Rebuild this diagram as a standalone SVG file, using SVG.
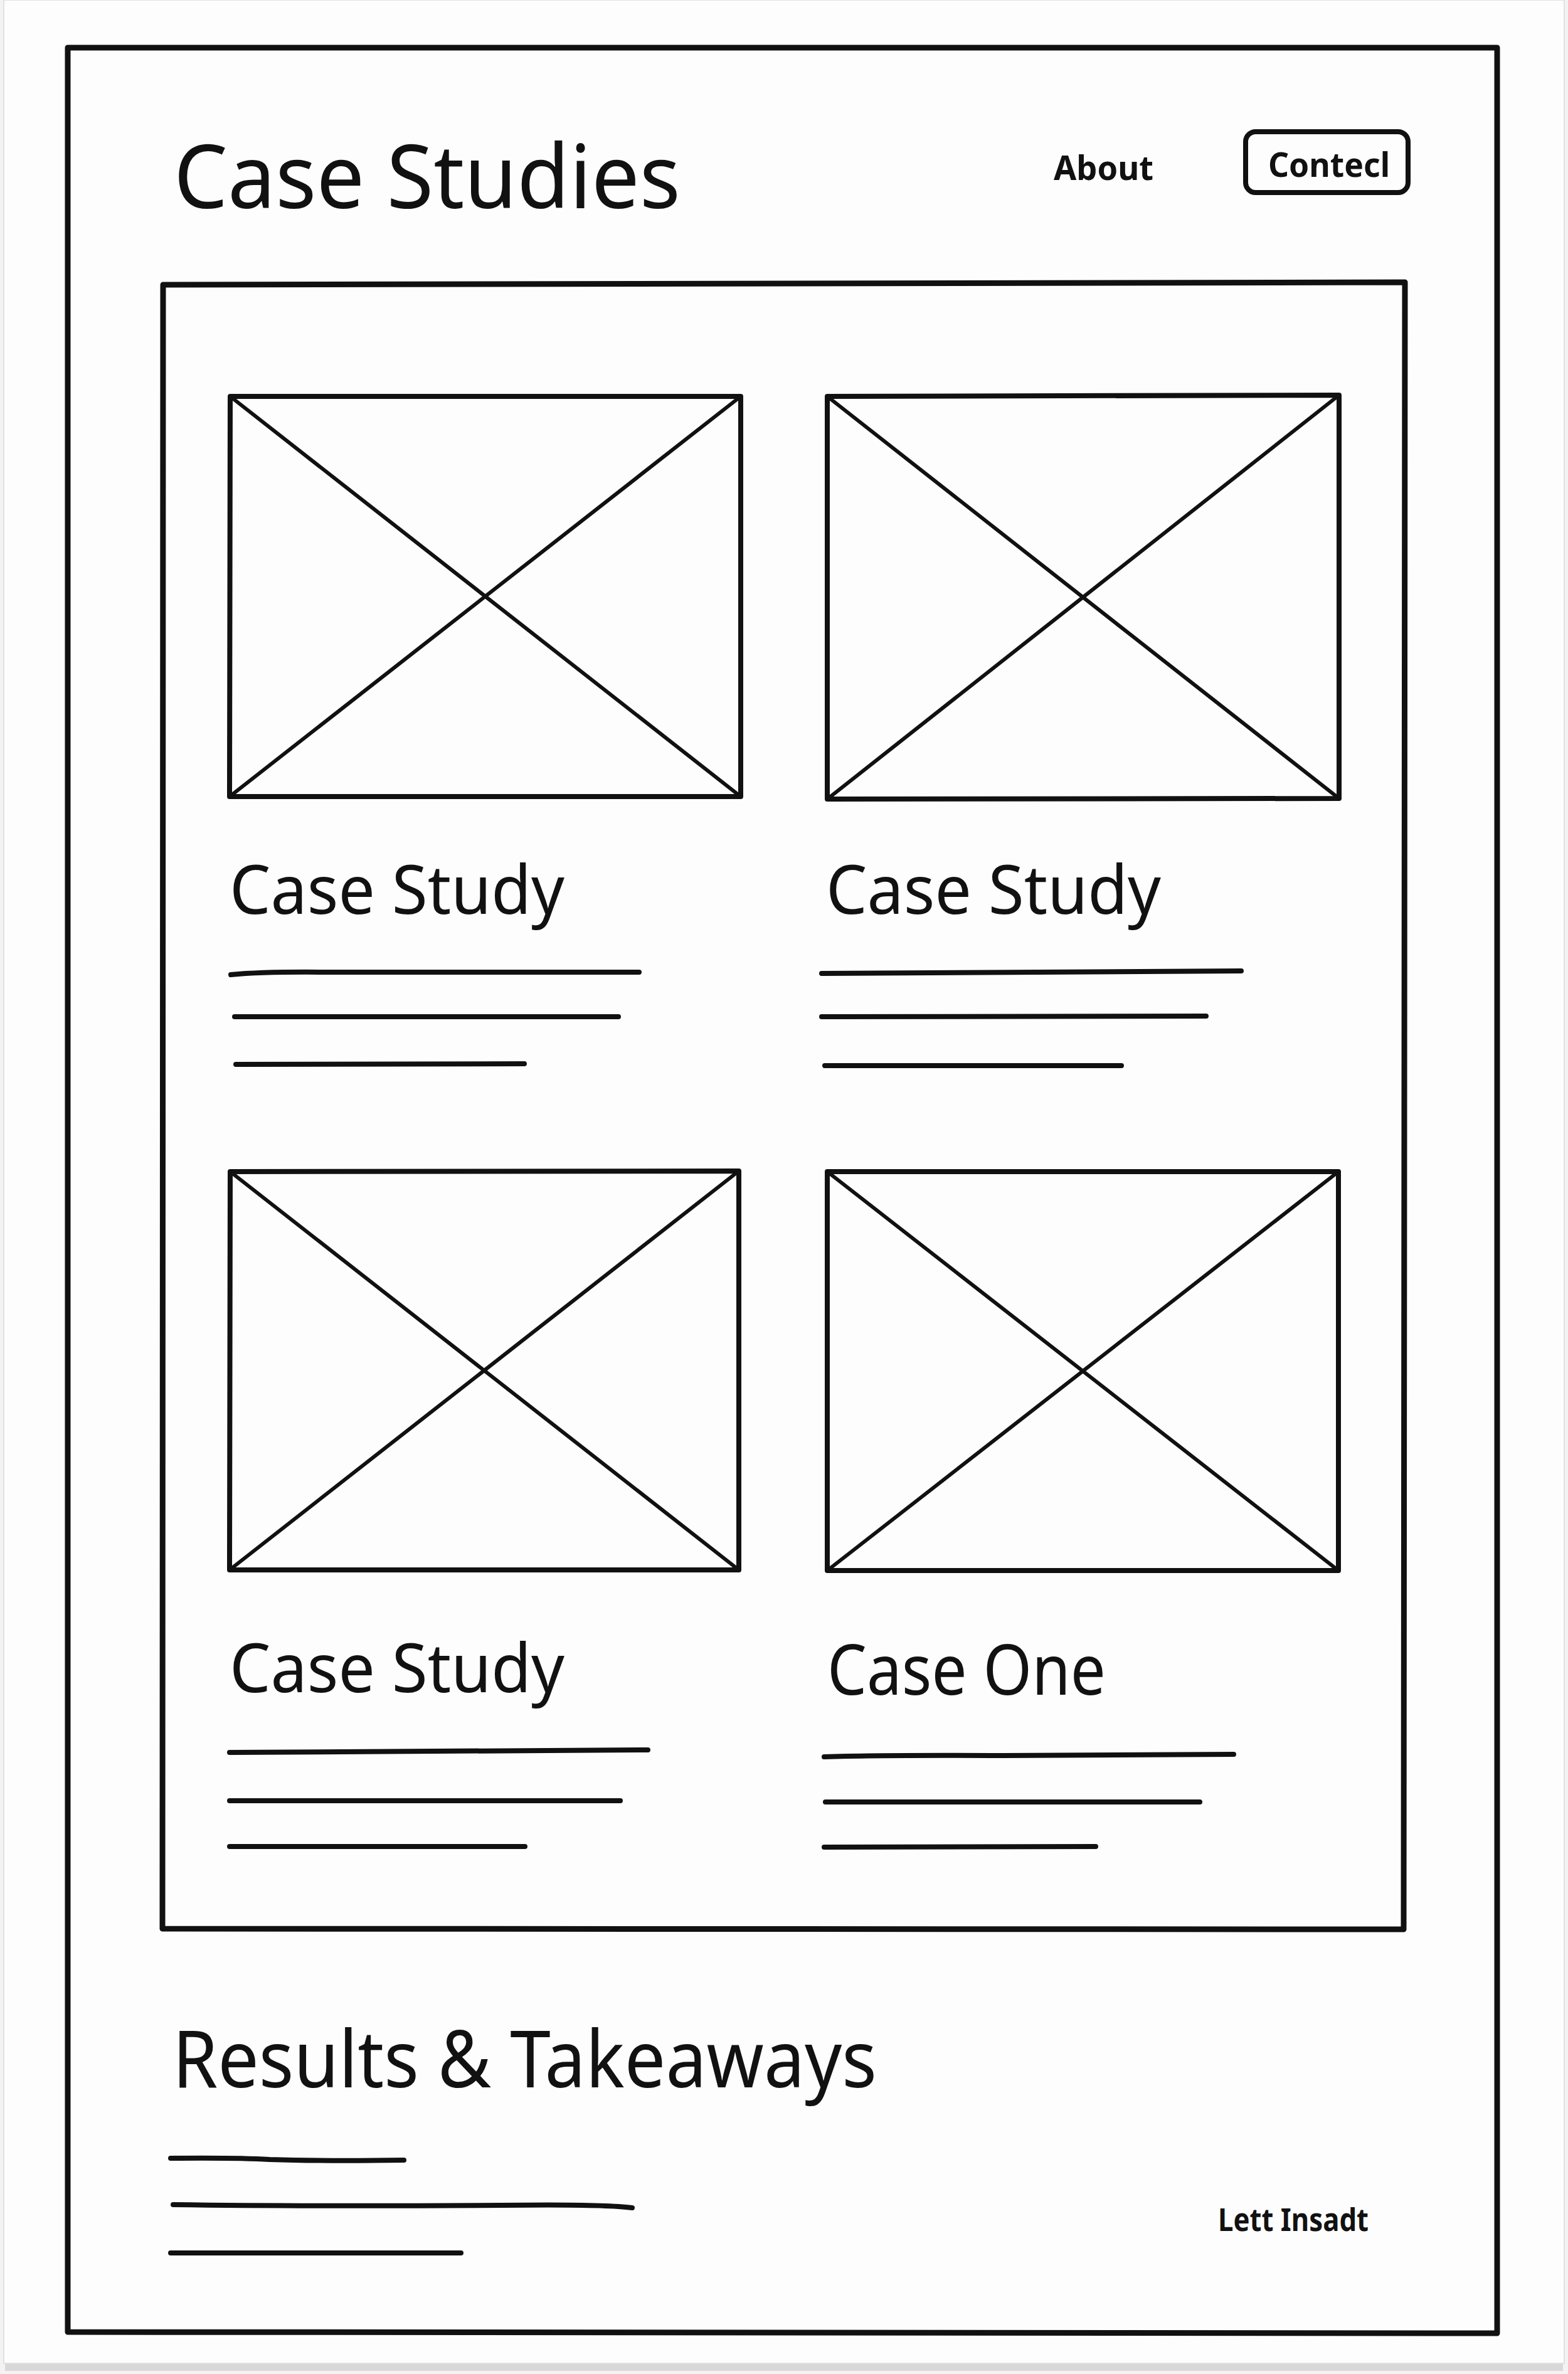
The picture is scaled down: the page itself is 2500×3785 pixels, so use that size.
<svg xmlns="http://www.w3.org/2000/svg" width="2500" height="3785" viewBox="0 0 2500 3785">
<style>
  .t { font-family: "Noto Sans", "Open Sans", sans-serif; fill: #111; }
  .b { font-family: "Noto Sans", "Open Sans", sans-serif; font-weight: bold; fill: #111; }
  .frame { fill: none; stroke: #111; stroke-width: 9; stroke-linejoin: round; }
  .ph { fill: none; stroke: #111; stroke-width: 8; stroke-linejoin: round; }
  .x { stroke: #111; stroke-width: 6; fill: none; }
  .ln { stroke: #111; stroke-width: 8; stroke-linecap: round; fill: none; }
</style>
<rect x="0" y="0" width="2500" height="3785" fill="#f3f3f3"/>
<rect x="8" y="3762" width="2484" height="18" fill="#d8d8d8"/>
<rect x="6" y="0" width="2488" height="3768" fill="#fdfdfd" stroke="#e2e2e2" stroke-width="2"/>

<g id="outer-frame">
  <path class="frame" d="M108 76 L2387 76 L2387 3720 L108 3718 Z"/>
</g>

<g id="header">
  <text class="t" x="277" y="332" font-size="140" textLength="808" lengthAdjust="spacingAndGlyphs">Case Studies</text>
  <text class="b" x="1680" y="287" font-size="54" font-weight="600" textLength="159" lengthAdjust="spacingAndGlyphs">About</text>
  <g id="contact-button">
    <rect x="1986" y="210" width="259" height="97" rx="16" fill="none" stroke="#111" stroke-width="8"/>
    <text class="b" x="2022" y="282" font-size="54" textLength="194" lengthAdjust="spacingAndGlyphs">Contecl</text>
  </g>
</g>

<g id="content-box">
  <path class="frame" d="M260 454 L2240 450 L2238 3076 L259 3075 Z"/>
</g>

<g id="card-1">
  <path class="ph" d="M367 632 L1181 632 L1181 1270 L366 1270 Z"/>
  <path class="x" d="M367 632 L1181 1270 M1181 632 L366 1270"/>
  <text class="t" x="366" y="1457" font-size="108" textLength="534" lengthAdjust="spacingAndGlyphs">Case Study</text>
  <path class="ln" d="M368 1554 Q420 1549 520 1550 L1019 1550"/>
  <path class="ln" d="M374 1621 L986 1621"/>
  <path class="ln" d="M376 1697 L836 1696"/>
</g>

<g id="card-2">
  <path class="ph" d="M1319 632 L2135 630 L2135 1273 L1319 1274 Z"/>
  <path class="x" d="M1319 632 L2135 1273 M2135 630 L1319 1274"/>
  <text class="t" x="1317" y="1457" font-size="108" textLength="534" lengthAdjust="spacingAndGlyphs">Case Study</text>
  <path class="ln" d="M1310 1552 L1979 1548"/>
  <path class="ln" d="M1310 1621 L1923 1620"/>
  <path class="ln" d="M1315 1699 L1788 1699"/>
</g>

<g id="card-3">
  <path class="ph" d="M367 1868 L1178 1867 L1178 2503 L366 2503 Z"/>
  <path class="x" d="M367 1868 L1178 2503 M1178 1867 L366 2503"/>
  <text class="t" x="366" y="2698" font-size="108" textLength="534" lengthAdjust="spacingAndGlyphs">Case Study</text>
  <path class="ln" d="M366 2794 L1033 2790"/>
  <path class="ln" d="M366 2871 L989 2871"/>
  <path class="ln" d="M366 2944 L837 2944"/>
</g>

<g id="card-4">
  <path class="ph" d="M1319 1868 L2134 1868 L2134 2504 L1319 2504 Z"/>
  <path class="x" d="M1319 1868 L2134 2504 M2134 1868 L1319 2504"/>
  <text class="t" x="1319" y="2702" font-size="112" textLength="444" lengthAdjust="spacingAndGlyphs">Case One</text>
  <path class="ln" d="M1314 2801 Q1400 2798 1600 2799 L1967 2797"/>
  <path class="ln" d="M1316 2873 L1913 2873"/>
  <path class="ln" d="M1314 2945 L1747 2944"/>
</g>

<g id="results">
  <text class="t" x="275" y="3328" font-size="126" textLength="1123" lengthAdjust="spacingAndGlyphs">Results &amp; Takeaways</text>
  <path class="ln" d="M272 3441 Q380 3440 430 3443 Q520 3446 644 3444"/>
  <path class="ln" d="M276 3515 Q500 3518 800 3516 Q960 3514 1008 3520"/>
  <path class="ln" d="M272 3592 L735 3592"/>
  <text class="b" x="1942" y="3557" font-size="50" textLength="240" lengthAdjust="spacingAndGlyphs">Lett Insadt</text>
</g>

<g id="connectors"></g>
</svg>
